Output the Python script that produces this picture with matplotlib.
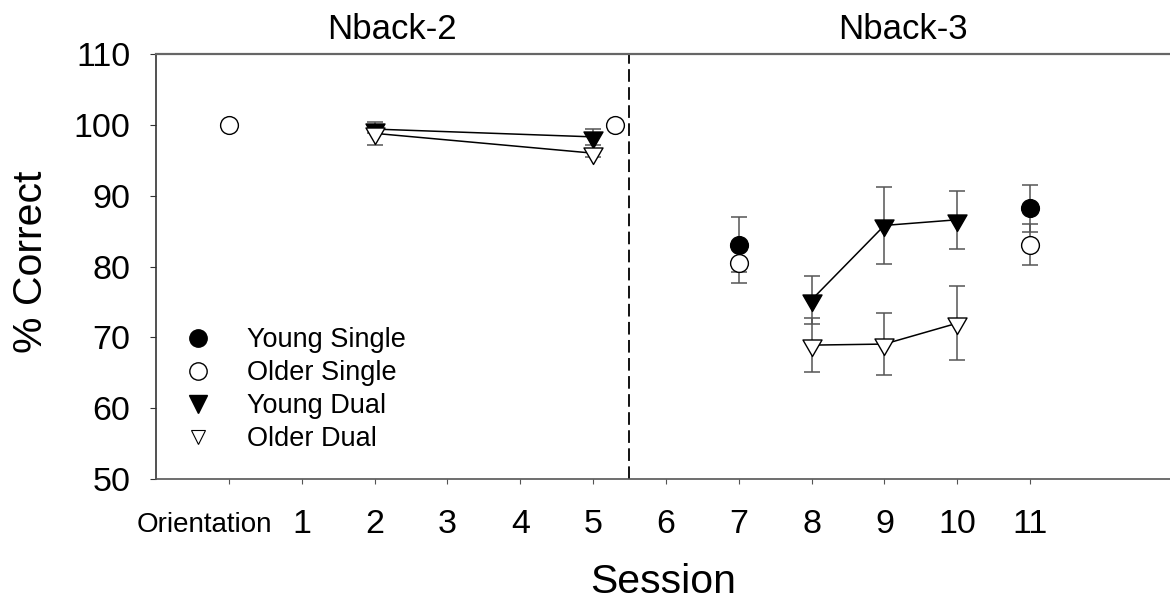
import numpy as np
import matplotlib
matplotlib.use("Agg")
import matplotlib.pyplot as plt
from matplotlib.path import Path
from matplotlib.lines import Line2D
from matplotlib.transforms import ScaledTranslation, blended_transform_factory

plt.rcParams["font.family"] = ["Liberation Sans", "DejaVu Sans"]

# ---------------- data ----------------
session_ticks = [0, 1, 2, 3, 4, 5, 6, 7, 8, 9, 10, 11]
session_labels = ["Orientation", "1", "2", "3", "4", "5", "6", "7", "8", "9", "10", "11"]

young_single_x = [7, 11]
young_single_y = [83.1, 88.2]
young_single_err = [3.9, 3.3]

older_single_x = [0, 5.3, 7, 11]
older_single_y = [100.0, 100.0, 80.5, 83.1]
older_single_err = [0.0, 0.0, 2.8, 2.9]

# dual task, Nback-2 block
young_dual2_x = [2, 5]
young_dual2_y = [99.4, 98.3]
young_dual2_err = [0.5, 1.1]
older_dual2_x = [2, 5]
older_dual2_y = [98.8, 96.0]
older_dual2_err = [1.6, 0.5]

# dual task, Nback-3 block
young_dual3_x = [8, 9, 10]
young_dual3_y = [75.3, 85.8, 86.6]
young_dual3_err = [3.4, 5.4, 4.1]
older_dual3_x = [8, 9, 10]
older_dual3_y = [68.9, 69.05, 72.0]
older_dual3_err = [3.8, 4.35, 5.25]

block_split = 5.5
block_titles = ["Nback-2", "Nback-3"]
block_title_x = [2.24, 9.25]

# ---------------- figure ----------------
fig = plt.figure(figsize=(11.7, 6.07), dpi=100)
ax = fig.add_axes([156 / 1170, 128 / 607, 1014 / 1170, 425 / 607])

# down triangle with its centroid on the data point
tri = Path([(0, -0.577), (-0.5, 0.289), (0.5, 0.289), (0, -0.577)],
           [Path.MOVETO, Path.LINETO, Path.LINETO, Path.CLOSEPOLY])

err_kw = dict(fmt="none", ecolor="#555555", elinewidth=1.1, capsize=5.5,
              capthick=1.1, zorder=2)
circ_kw = dict(marker="o", markersize=12.8, markeredgewidth=1.0,
               markeredgecolor="black", linestyle="none", zorder=3)
tri_kw = dict(marker=tri, markersize=15.8, markeredgewidth=1.0,
              markeredgecolor="black", color="black", linewidth=1.1, zorder=3)

# error bars
for x, y, e in [(young_single_x, young_single_y, young_single_err),
                (older_single_x, older_single_y, older_single_err),
                (young_dual2_x, young_dual2_y, young_dual2_err),
                (older_dual2_x, older_dual2_y, older_dual2_err),
                (young_dual3_x, young_dual3_y, young_dual3_err),
                (older_dual3_x, older_dual3_y, older_dual3_err)]:
    e = np.array(e)
    m = e > 0
    ax.errorbar(np.array(x)[m], np.array(y)[m], yerr=e[m], **err_kw)

# markers / lines
ax.plot(young_dual2_x, young_dual2_y, markerfacecolor="black", **tri_kw)
ax.plot(older_dual2_x, older_dual2_y, markerfacecolor="white", **tri_kw)
ax.plot(young_dual3_x, young_dual3_y, markerfacecolor="black", **tri_kw)
ax.plot(older_dual3_x, older_dual3_y, markerfacecolor="white", **tri_kw)
ax.plot(young_single_x, young_single_y, markerfacecolor="black", **circ_kw)
ax.plot(older_single_x, older_single_y, markerfacecolor="white", **circ_kw)

# block separator
ax.axvline(block_split, color="black", linewidth=1.3, linestyle=(0, (7, 3)), zorder=1)

# axes
ax.set_xlim(-1, 12.92)
ax.set_ylim(50, 110)
ax.set_yticks(np.arange(50, 111, 10))
ax.set_xticks(session_ticks)
ax.set_xticklabels(session_labels)
ax.tick_params(axis="x", direction="out", length=3.4, width=0.8, pad=29.5,
               labelsize=24.5, colors="#555555", labelcolor="black")
ax.tick_params(axis="y", direction="out", length=4, width=0.8, pad=14.4,
               labelsize=24.5, colors="#333333", labelcolor="black")
for lab in ax.get_xticklabels():
    lab.set_va("center")
first = ax.get_xticklabels()[0]
first.set_fontsize(20)
first.set_transform(first.get_transform() + ScaledTranslation(-0.24, 0, fig.dpi_scale_trans))

ax.spines["right"].set_visible(False)
ax.spines["top"].set_color("#666666")
ax.spines["top"].set_linewidth(1.6)
ax.spines["bottom"].set_color("#555555")
ax.spines["bottom"].set_linewidth(1.2)
ax.spines["left"].set_color("#333333")
ax.spines["left"].set_linewidth(1.2)

ax.set_xlabel("Session", fontsize=29.5, va="center")
ax.xaxis.set_label_coords((663 - 156) / 1014, (479 - 582) / 425)
ax.set_ylabel("% Correct", fontsize=29.5, va="center")
ax.yaxis.set_label_coords((31.5 - 156) / 1014, (479 - 262) / 425)

tr = blended_transform_factory(ax.transData, ax.transAxes)
for tx, tt in zip(block_title_x, block_titles):
    ax.text(tx, (479 - 39) / 425, tt, transform=tr, ha="center", va="baseline",
            fontsize=25)

# legend
handles = [
    Line2D([], [], marker="o", markersize=12.5, markerfacecolor="black",
           markeredgecolor="black", linestyle="none"),
    Line2D([], [], marker="o", markersize=12.5, markerfacecolor="white",
           markeredgecolor="black", linestyle="none"),
    Line2D([], [], marker="v", markersize=12.5, markerfacecolor="black",
           markeredgecolor="black", linestyle="none"),
    Line2D([], [], marker="v", markersize=9.5, markerfacecolor="white",
           markeredgecolor="black", markeredgewidth=0.8, linestyle="none"),
]
ax.legend(handles, ["Young Single", "Older Single", "Young Dual", "Older Dual"],
          loc="upper left", bbox_to_anchor=(0.028, (479 - 327) / 425),
          frameon=False, fontsize=19.5, handlelength=1.0, handletextpad=1.3,
          labelspacing=0.26, borderpad=0, borderaxespad=0)

fig.savefig("out.png", dpi=100)
